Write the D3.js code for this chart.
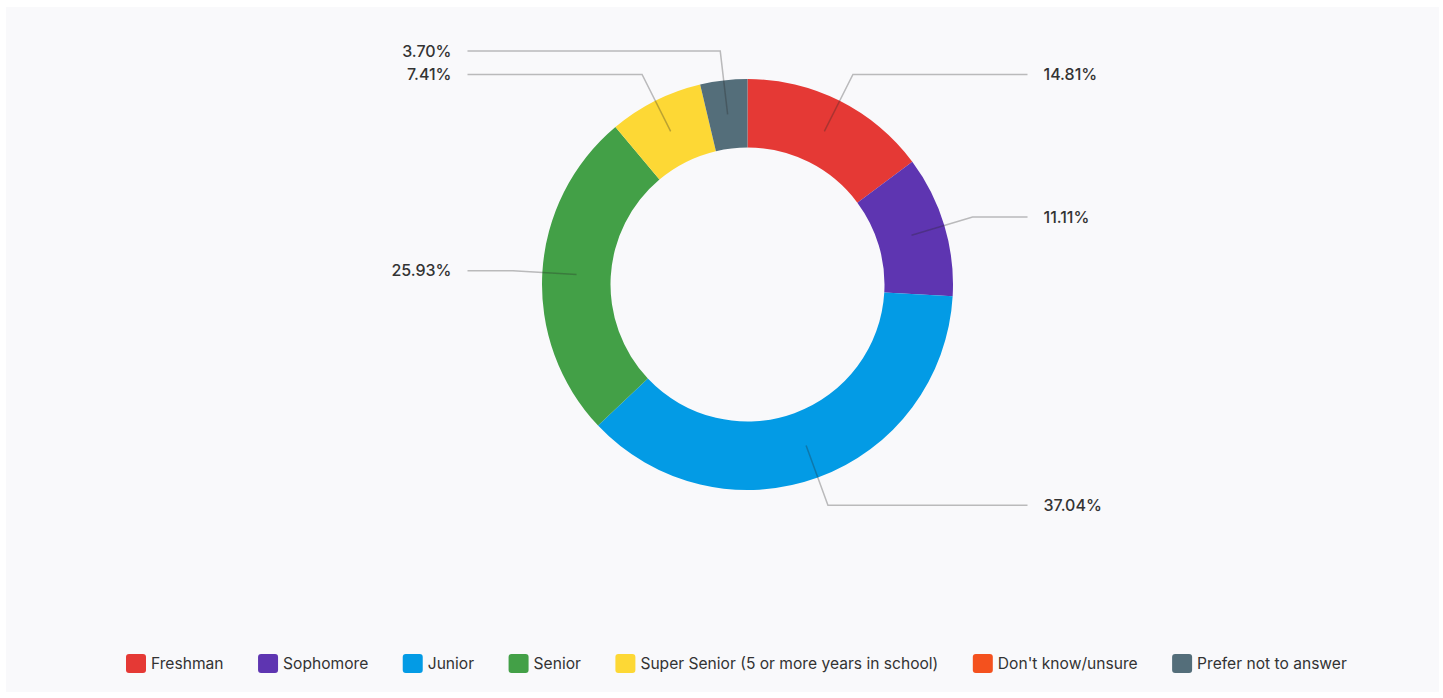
<!DOCTYPE html>
<html>
<head>
<meta charset="utf-8">
<script src="https://cdn.jsdelivr.net/npm/d3@7"></script>
<style>
  html, body { margin: 0; padding: 0; background: #ffffff; }
  svg { display: block; font-family: Inter, "Noto Sans", sans-serif; }
</style>
</head>
<body>
<svg id="chart" width="1443" height="698"></svg>
<script>
// Class standing of respondents (percent of 27 responses)
const categories = [
  "Freshman",
  "Sophomore",
  "Junior",
  "Senior",
  "Super Senior (5 or more years in school)",
  "Don't know/unsure",
  "Prefer not to answer"
];
const percents = [14.81, 11.11, 37.04, 25.93, 7.41, 0, 3.70];
const sliceColors = ["#E53935", "#5E35B1", "#039BE5", "#43A047", "#FDD835", "#F4511E", "#546E7A"];

const svg = d3.select("#chart");

// panel background
svg.append("rect")
  .attr("x", 6).attr("y", 7)
  .attr("width", 1433).attr("height", 685)
  .attr("fill", "#f9f9fb");

const cx = 747.5, cy = 284.5;
const outerR = 205.5, innerR = 137;
const midR = (outerR + innerR) / 2;
const elbowR = 235;
const lineEndDx = 280;
const labelDx = 296;

const data = categories.map((c, i) => ({ name: c, value: percents[i], color: sliceColors[i] }));

const pie = d3.pie().value(d => d.value).sort(null);
const arcs = pie(data);

const arc = d3.arc().innerRadius(innerR).outerRadius(outerR);

const g = svg.append("g").attr("transform", `translate(${cx},${cy})`);

g.selectAll("path.slice")
  .data(arcs)
  .join("path")
  .attr("class", "slice")
  .attr("d", arc)
  .attr("fill", d => d.data.color);

// leader lines and percent labels
const polar = (r, a) => [r * Math.sin(a), -r * Math.cos(a)];
const labelled = arcs.filter(d => d.data.value > 0);

labelled.forEach(d => {
  const a = (d.startAngle + d.endAngle) / 2;
  const p0 = polar(midR, a);
  const p1 = polar(elbowR, a);
  const right = Math.sin(a) >= 0;
  const x2 = right ? lineEndDx : -lineEndDx;
  g.append("polyline")
    .attr("points", [p0, p1, [x2, p1[1]]].map(p => p.join(",")).join(" "))
    .attr("fill", "none")
    .attr("stroke", "rgba(40,40,40,0.3)")
    .attr("stroke-width", 1.5);
  g.append("text")
    .attr("x", right ? labelDx : -labelDx)
    .attr("y", p1[1])
    .attr("dy", "0.35em")
    .attr("text-anchor", right ? "start" : "end")
    .attr("font-size", 16)
    .attr("font-weight", 500)
    .attr("fill", "#333")
    .text(d.data.value.toFixed(2) + "%");
});

// legend
const legend = svg.append("g");
const sw = 20, sh = 19, textGap = 5, itemGap = 34.5, legY = 654;
let x = 126;
data.forEach(d => {
  const item = legend.append("g").attr("transform", `translate(${x},${legY})`);
  item.append("rect")
    .attr("width", sw).attr("height", sh)
    .attr("rx", 3).attr("ry", 3)
    .attr("fill", d.color);
  const t = item.append("text")
    .attr("x", sw + textGap)
    .attr("y", sh / 2)
    .attr("dy", "0.35em")
    .attr("font-size", 15.6)
    .attr("fill", "#333")
    .text(d.name);
  x += sw + textGap + t.node().getComputedTextLength() + itemGap;
});
</script>
</body>
</html>
